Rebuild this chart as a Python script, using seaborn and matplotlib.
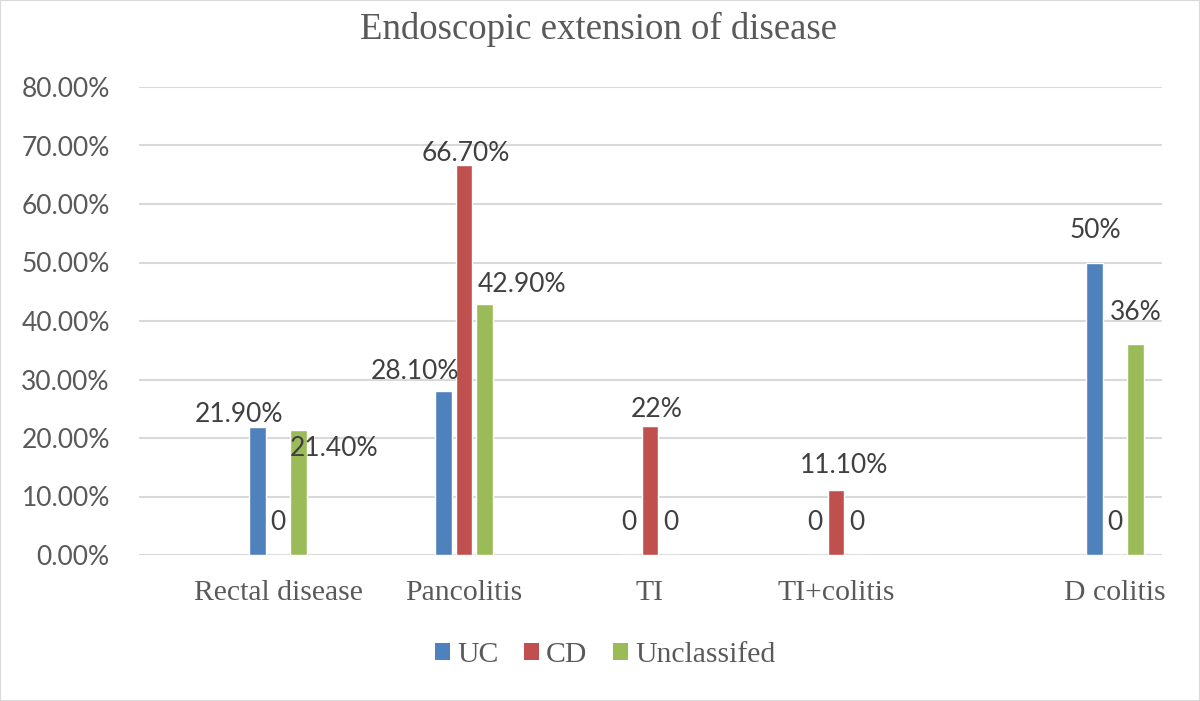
import numpy as np
import pandas as pd
import matplotlib
matplotlib.use("Agg")
import matplotlib.pyplot as plt
from matplotlib.patches import Patch, Rectangle
import seaborn as sns

# Dữ liệu (%)
categories = ["Rectal disease", "Pancolitis", "TI", "TI+colitis", "D colitis"]
groups = ["UC", "CD", "Unclassifed"]
uc_values = [21.9, 28.1, 0, 0, 50]
cd_values = [0, 66.7, 22, 11.1, 0]
unc_values = [21.4, 42.9, 0, 0, 36]
uc_labels = ["21.90%", "28.10%", "0", "0", "50%"]
cd_labels = ["0", "66.70%", "22%", "11.10%", "0"]
unc_labels = ["21.40%", "42.90%", "0", "0", "36%"]
y_ticks = [0, 10, 20, 30, 40, 50, 60, 70, 80]

# Vị trí nhóm trên trục x (D colitis lệch xa hơn như hình gốc)
cat_pos = [0, 1, 2, 3, 4.5]

colors = ["#4F81BD", "#C0504D", "#9BBB59"]
text_dark = "#404040"
text_gray = "#595959"
grid_color = "#D9D9D9"

sns.set_theme(style="white")
plt.rcParams["font.family"] = ["Lato", "DejaVu Sans"]

df = pd.DataFrame({
    "pos": cat_pos * 3,
    "value": uc_values + cd_values + unc_values,
    "group": [g for g in groups for _ in categories],
})

fig = plt.figure(figsize=(12, 7.01), dpi=100)
ax = fig.add_axes([139 / 1200, 1 - 555 / 701, (1162 - 139) / 1200, (555 - 87) / 701])

sns.barplot(data=df, x="pos", y="value", hue="group", hue_order=groups,
            palette=colors, saturation=1, native_scale=True, width=0.334, gap=0.2,
            errorbar=None, legend=False, ax=ax, zorder=3)

ax.set_xlim(-0.747, 4.753)
ax.set_ylim(0, 80)
ax.set_yticks(y_ticks)
ax.set_yticklabels([f"{v:.2f}%" for v in y_ticks], fontsize=19, color=text_gray)
ax.set_xticks(cat_pos)
ax.set_xticklabels(categories, family="Liberation Serif", fontsize=21.4, color=text_gray)
ax.tick_params(axis="y", length=0, pad=21)
ax.tick_params(axis="x", length=0, pad=18)
ax.set_xlabel("")
ax.set_ylabel("")
ax.yaxis.grid(True, color=grid_color, linewidth=1.5, zorder=0)
ax.set_axisbelow(True)
for s in ax.spines.values():
    s.set_visible(False)

# Nhãn giá trị (độ lệch tính theo pixel)
offsets = {
    "UC": [(-18, 12), (-28, 19), (0, 32), (0, 32), (1, 32)],
    "CD": [(0, 33), (2, 11), (7, 17), (8, 25), (0, 32)],
    "Unclassifed": [(35, -19), (37, 20), (0, 32), (0, 32), (0, 32)],
}
all_labels = {"UC": uc_labels, "CD": cd_labels, "Unclassifed": unc_labels}
for cont, g in zip(ax.containers, groups):
    for bar, lab, off in zip(cont, all_labels[g], offsets[g]):
        x = bar.get_x() + bar.get_width() / 2
        y = bar.get_height()
        ax.annotate(lab, xy=(x, y), xytext=off, textcoords="offset pixels",
                    ha="center", va="center", fontsize=19, color=text_dark, zorder=5)

fig.text(598 / 1200, 1 - 29 / 701, "Endoscopic extension of disease",
         family="Liberation Serif", fontsize=26.5, color=text_gray,
         ha="center", va="center")

handles = [Patch(facecolor=c, edgecolor="none") for c in colors]
fig.legend(handles, groups, loc="center", bbox_to_anchor=(605 / 1200, 1 - 655 / 701),
           ncol=3, frameon=False, prop={"family": "Liberation Serif", "size": 21.4},
           labelcolor=text_gray, handlelength=0.5, handleheight=0.5,
           handletextpad=0.25, columnspacing=0.85)

fig.patches.append(Rectangle((0, 0), 1, 1, transform=fig.transFigure, fill=False,
                             edgecolor=grid_color, linewidth=1.5))

fig.savefig("out.png", dpi=100)
